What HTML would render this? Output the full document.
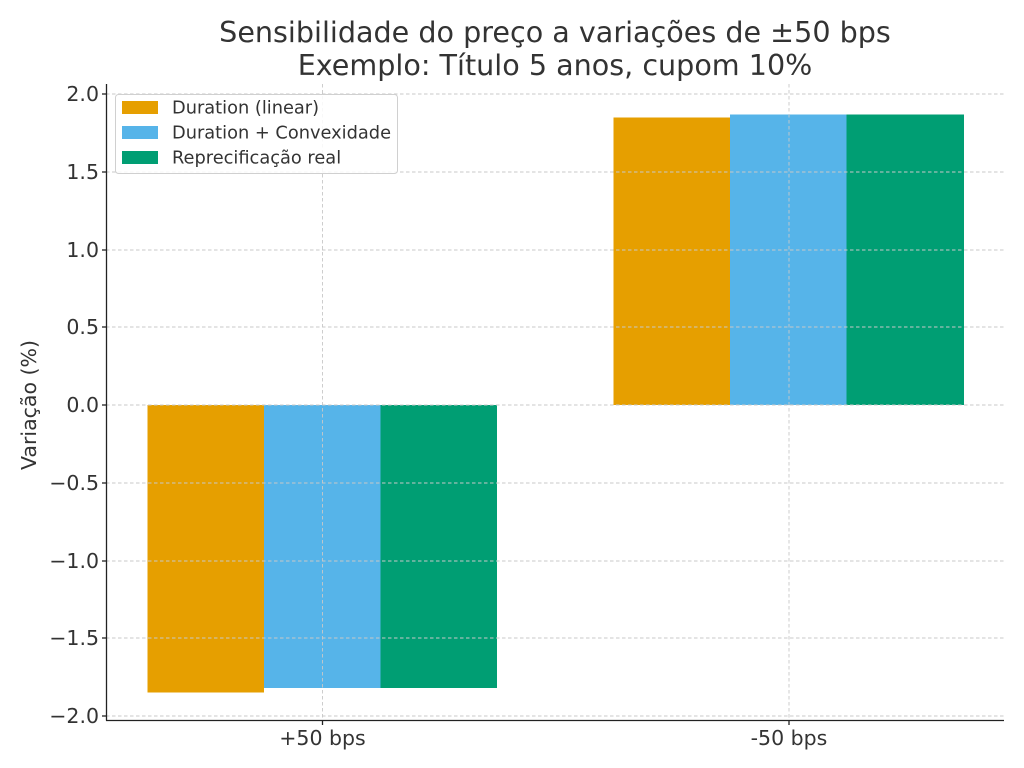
<!DOCTYPE html>
<html><head><meta charset="utf-8"><style>body{margin:0;background:#fff}svg{display:block}</style></head><body>
<svg width="1024" height="768" xmlns="http://www.w3.org/2000/svg" font-family="DejaVu Sans, Liberation Sans, sans-serif">
<rect width="1024" height="768" fill="#fff"/>
<text x="555" y="42" font-size="28.6" fill="#333" text-anchor="middle">Sensibilidade do preço a variações de ±50 bps</text>
<text x="555" y="75" font-size="28.6" fill="#333" text-anchor="middle">Exemplo: Título 5 anos, cupom 10%</text>
<!-- bars -->
<rect x="147.5" y="405" width="116.5" height="287.5" fill="#E69F00"/>
<rect x="264" y="405" width="116.5" height="283" fill="#56B4E9"/>
<rect x="380.5" y="405" width="116.5" height="283" fill="#009E73"/>
<rect x="613.5" y="117.5" width="116.5" height="287.5" fill="#E69F00"/>
<rect x="730" y="114.5" width="116.5" height="290.5" fill="#56B4E9"/>
<rect x="846.5" y="114.5" width="117.5" height="290.5" fill="#009E73"/>
<!-- grid -->
<g stroke="#c8c8c8" stroke-width="0.9" stroke-dasharray="3.5,2.5">
<line x1="106" x2="1004" y1="94" y2="94"/><line x1="106" x2="1004" y1="172" y2="172"/>
<line x1="106" x2="1004" y1="250" y2="250"/><line x1="106" x2="1004" y1="327" y2="327"/>
<line x1="106" x2="1004" y1="405" y2="405"/><line x1="106" x2="1004" y1="483" y2="483"/>
<line x1="106" x2="1004" y1="561" y2="561"/><line x1="106" x2="1004" y1="638" y2="638"/>
<line x1="106" x2="1004" y1="716" y2="716"/>
<line x1="322.5" x2="322.5" y1="84" y2="720"/><line x1="789" x2="789" y1="84" y2="720"/>
</g>
<!-- spines -->
<g stroke="#222" stroke-width="1.3">
<line x1="106.5" y1="84" x2="106.5" y2="720.5"/><line x1="106" y1="720.5" x2="1004" y2="720.5"/>
<line x1="102" x2="106" y1="94" y2="94"/><line x1="102" x2="106" y1="172" y2="172"/>
<line x1="102" x2="106" y1="250" y2="250"/><line x1="102" x2="106" y1="327" y2="327"/>
<line x1="102" x2="106" y1="405" y2="405"/><line x1="102" x2="106" y1="483" y2="483"/>
<line x1="102" x2="106" y1="561" y2="561"/><line x1="102" x2="106" y1="638" y2="638"/>
<line x1="102" x2="106" y1="716" y2="716"/>
<line x1="322.5" x2="322.5" y1="720" y2="725"/><line x1="789" x2="789" y1="720" y2="725"/>
</g>
<g font-size="20.5" fill="#333" text-anchor="end">
<text x="99" y="101">2.0</text><text x="99" y="179">1.5</text><text x="99" y="257">1.0</text>
<text x="99" y="334">0.5</text><text x="99" y="412">0.0</text><text x="99" y="490">−0.5</text>
<text x="99" y="568">−1.0</text><text x="99" y="645">−1.5</text><text x="99" y="723">−2.0</text>
</g>
<g font-size="20.5" fill="#333" text-anchor="middle">
<text x="322.5" y="745">+50 bps</text><text x="789" y="745">-50 bps</text>
<text transform="translate(36,405) rotate(-90)">Variação (%)</text>
</g>
<!-- legend -->
<rect x="115.5" y="94.5" width="282" height="79" rx="3" fill="#fff" fill-opacity="0.85" stroke="#d0d0d0"/>
<rect x="122" y="101" width="36" height="13" fill="#E69F00"/>
<rect x="122" y="126" width="36" height="13" fill="#56B4E9"/>
<rect x="122" y="151" width="36" height="13" fill="#009E73"/>
<g font-size="17.8" fill="#333">
<text x="172" y="113.5">Duration (linear)</text>
<text x="172" y="138.5">Duration + Convexidade</text>
<text x="172" y="163.5">Reprecificação real</text>
</g>
</svg>
</body></html>
